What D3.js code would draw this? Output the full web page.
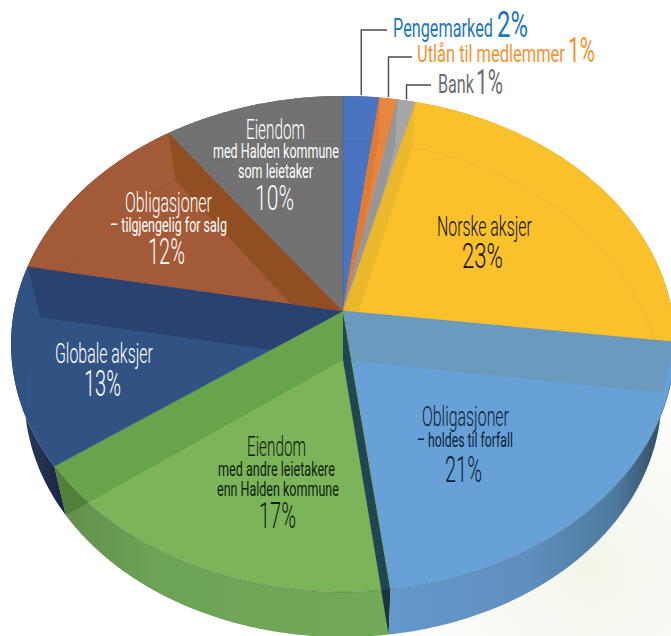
<!DOCTYPE html>
<html><head><meta charset="utf-8">
<script src="https://cdn.jsdelivr.net/npm/d3@7/dist/d3.min.js"></script>
<style>html,body{margin:0;padding:0;background:#fff;overflow:hidden}svg{display:block}text{font-family:Roboto,"Liberation Sans Narrow",sans-serif}</style>
</head><body><svg id="c" width="671" height="636"></svg>
<script>
const categories = ["Pengemarked","Utlån til medlemmer","Bank","Norske aksjer","Obligasjoner – holdes til forfall","Eiendom med andre leietakere enn Halden kommune","Globale aksjer","Obligasjoner – tilgjengelig for salg","Eiendom med Halden kommune som leietaker"];
const shares = [2,1,1,23,21,17,13,12,10];
const topColors = ["#4a74bf","#e8853f","#a6a6a6","#fbc12b","#67a1d8","#7cb45a","#315384","#a35a36","#727272"];
const wallColors = ["#3a5c9a","#c96d2e","#8a8a8a","url(#gYellow)","url(#gBlue)","url(#gGreen)","url(#gNavy)","#7e4526","#555"];
// internal radial faces seen through the top: edge (end of slice), the slice that shows it, colour
const faceEdges = [0,1,2,3,5,6,7,4];
const faceHosts = [1,2,3,4,5,6,7,5];
const faceColors = ["#e07b34","#979797","#ebb82c","#6a9bbf","#67a44b","#2a4270","#924e23","#214653"];

// [text, left, right, baseline, size, colour, weight]
const labelRuns = [
 ["Pengemarked",393,493,37,26,"#1f77bf",400],["2%",497,528,37,36,"#1f77bf",400],
 ["Utlån til medlemmer",417,565,62,24,"#f6932f",400],["1%",568,595,62,35,"#f6932f",400],
 ["Bank",438,474,93,25,"#6d6e70",400],["1%",476,503,94,36,"#6d6e70",400],
 ["Eiendom",246,305,139,27,"#fff",300],["med Halden kommune",213,339,158,21,"#fff",400],["som leietaker",238,313,178,21,"#fff",400],["10%",255,294,210,36,"#fff",300],
 ["Obligasjoner",125,212,212,27,"#fff",300],["– tilgjengelig for salg",110,227,232,21,"#fff",400],["12%",148,185,264,36,"#fff",300],
 ["Globale aksjer",55,153,363,27,"#fff",300],["13%",84,121,396,36,"#fff",300],
 ["Norske aksjer",437,532,236,27,"#111",300],["23%",462,503,268,36,"#111",300],
 ["Obligasjoner",422,509,426,27,"#0f2233",300],["– holdes til forfall",417,513,447,21,"#0f2233",400],["21%",445,482,482,36,"#0f2233",300],
 ["Eiendom",247,306,456,27,"#0e1f10",300],["med andre leietakere",218,335,476,21,"#0e1f10",400],["enn Halden kommune",217,339,496,21,"#0e1f10",400],["17%",259,296,528,36,"#0e1f10",300]
];
const leaderSlices = [0,1,2];
const leaderHeights = [30,57,85];
const leaderEnds = [387,412,431];

const svg = d3.select("#c");
const W=671,H=636, cx=343, cy=311, Rx=329, Ry=243.6, k=0.133, xShrink=.96;
const arcs = d3.pie().sort(null).value(d=>d)(shares);
const deg = Math.PI/180;

const topPt = a => { const u=Math.sin(a), v=-Math.cos(a), w=1-k*v; return [cx+Rx*u/w, cy+Ry*v/w]; };
const botPt = a => { const p=topPt(a), u=Math.sin(a); return [cx+(p[0]-cx)*xShrink, p[1]+45+6*u*u]; };
const topC=[cx,cy], botC=[cx,cy+49];
const line = d3.line();
const rim = (f,a0,a1) => d3.range(a0,a1,0.5*deg).concat([a1]).map(f);

const defs = svg.append("defs");
const lin=(id,x1,x2,stops)=>{const g=defs.append("linearGradient").attr("id",id).attr("gradientUnits","userSpaceOnUse").attr("x1",x1).attr("x2",x2).attr("y1",0).attr("y2",0);stops.forEach(s=>g.append("stop").attr("offset",s[0]).attr("stop-color",s[1]));};
lin("gYellow",560,671,[[0,"#c99a24"],[1,"#8a6a1a"]]);
lin("gBlue",385,672,[[0,"#6498cb"],[.5,"#5f8fbe"],[.8,"#4f7a9f"],[1,"#2c4657"]]);
lin("gGreen",60,390,[[0,"#628f4c"],[.3,"#6ca456"],[1,"#71a956"]]);
lin("gNavy",15,70,[[0,"#2a3f63"],[1,"#17233f"]]);
const rg=defs.append("radialGradient").attr("id","glow").attr("gradientUnits","userSpaceOnUse").attr("cx",590).attr("cy",570).attr("r",200);
rg.append("stop").attr("offset",0).attr("stop-color","#f1f6e9");rg.append("stop").attr("offset",1).attr("stop-color","#fff");
svg.append("rect").attr("width",W).attr("height",H).attr("fill","url(#glow)");

const wallPath = d => line(rim(topPt,d.startAngle,d.endAngle).concat(rim(botPt,d.startAngle,d.endAngle).reverse()))+"Z";
const topPath = d => line([topC].concat(rim(topPt,d.startAngle,d.endAngle)))+"Z";

// outer walls, then top faces
svg.append("g").selectAll("path").data(arcs).join("path").attr("d",wallPath).attr("fill",(d,i)=>wallColors[i]);
svg.append("g").selectAll("path").data(arcs).join("path").attr("d",topPath).attr("fill",(d,i)=>topColors[i]);
// bottom ring seen through the top
svg.append("path").attr("d",line(rim(botPt,0,2*Math.PI))).attr("fill","none").attr("stroke","rgba(0,0,0,.035)").attr("stroke-width",1);

// a clip per host slice: its top face and its outer wall
arcs.forEach((d,i)=>{const c=defs.append("clipPath").attr("id","host"+i);
  c.append("path").attr("d",topPath(d)); if(i>=4&&i<=6) c.append("path").attr("d",wallPath(d));});
defs.append("clipPath").attr("id","front").selectAll("path").data(arcs.slice(4,7)).join("path").attr("d",wallPath);

// internal radial faces
const faces = faceEdges.map((e,i)=>({a:arcs[e].endAngle,c:faceColors[i],h:faceHosts[i]}));
const facePath = f => line([topC,topPt(f.a),botPt(f.a),botC])+"Z";
const faceG = svg.append("g");
faces.forEach(f=>{
  const g=faceG.append("g").attr("clip-path",`url(#host${f.h})`);
  g.append("path").attr("d",facePath(f)).attr("fill",f.c);
  g.append("g").attr("clip-path","url(#front)").append("path").attr("d",facePath(f)).attr("fill","rgba(0,0,0,.22)");
});

// rim strokes and slice edges
svg.append("path").attr("d",line(rim(topPt,arcs[4].startAngle,arcs[5].endAngle))).attr("fill","none").attr("stroke","rgba(30,60,60,.22)").attr("stroke-width",1);
svg.append("g").selectAll("path").data(arcs).join("path").attr("d",d=>line([topC,topPt(d.startAngle)]))
  .attr("fill","none").attr("stroke",(d,i)=>d3.color(topColors[i]).darker(.35)).attr("stroke-width",.8).attr("opacity",.7);

// leader lines
svg.append("g").selectAll("path").data(leaderSlices).join("path")
  .attr("d",(s,i)=>{const a=(arcs[s].startAngle+arcs[s].endAngle)/2,p=topPt(a);return line([[leaderEnds[i],leaderHeights[i]],[p[0],leaderHeights[i]],[p[0],p[1]-1]]);})
  .attr("fill","none").attr("stroke","#4a4a4a").attr("stroke-width",1.4);

// labels: squeezed horizontally to the condensed width of the reference face
svg.append("g").selectAll("text").data(labelRuns).join("text")
  .text(d=>d[0]).attr("font-size",d=>d[4]).attr("font-weight",d=>d[6]).attr("fill",d=>d[5])
  .attr("transform",function(d){const n=this.getComputedTextLength();return `translate(${d[1]},${d[3]}) scale(${(d[2]-d[1])/n},1)`;});
</script></body></html>
